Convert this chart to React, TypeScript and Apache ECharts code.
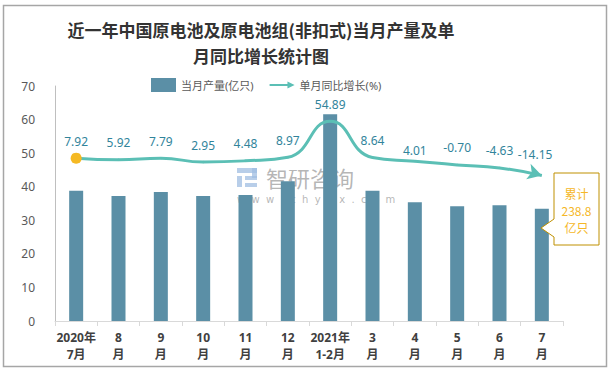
import React, { useEffect, useRef } from "react";
import * as echarts from "echarts";

const categories = ["2020年\n7月", "8\n月", "9\n月", "10\n月", "11\n月", "12\n月", "2021年\n1-2月", "3\n月", "4\n月", "5\n月", "6\n月", "7\n月"];
const output = [38.8, 37.2, 38.4, 37.2, 37.5, 41.6, 61.6, 38.8, 35.4, 34.2, 34.5, 33.4];
const growth = [7.92, 5.92, 7.79, 2.95, 4.48, 8.97, 54.89, 8.64, 4.01, -0.7, -4.63, -14.15];
const barName = "当月产量(亿只)";
const lineName = "单月同比增长(%)";
const titleText = "近一年中国原电池及原电池组(非扣式)当月产量及单\n月同比增长统计图";
const calloutText = "累计\n238.8\n亿只";

const TEAL = "#5BBFB5";
const BAR = "#5B8FA6";

export default function App() {
  const ref = useRef<HTMLDivElement>(null);
  useEffect(() => {
    if (!ref.current) return;
    const chart = echarts.init(ref.current, null, { renderer: "svg" });
    const lineData = growth.map((v, i) => {
      if (i === 0) {
        return { value: v, symbol: "circle", symbolSize: 11, itemStyle: { color: "#F5B923" }, label: { distance: 5 } };
      }
      if (i === growth.length - 1) {
        return { value: v, symbol: "arrow", symbolSize: [12, 14], symbolRotate: -106, itemStyle: { color: TEAL }, label: { distance: 3 } };
      }
      if (i === 8) {
        return { value: v, label: { distance: 4 } };
      }
      return { value: v };
    });
    chart.setOption({
      animation: false,
      backgroundColor: "#ffffff",
      textStyle: { fontFamily: "'Noto Sans', 'Noto Sans CJK SC', sans-serif" },
      legend: {
        left: 146,
        top: 73,
        itemGap: 16,
        textStyle: { fontSize: 11, color: "#595959" },
        data: [
          { name: barName, icon: "rect", itemWidth: 20, itemHeight: 7 },
          { name: lineName, icon: "path://M0,3 L20,3 L20,0 L28,4 L20,8 L20,5 L0,5 Z", itemWidth: 28, itemHeight: 8 },
        ],
      },
      grid: { left: 55, right: 50, top: 86, bottom: 51, containLabel: false },
      xAxis: {
        type: "category",
        data: categories,
        axisLine: { lineStyle: { color: "#D9D9D9", width: 1 } },
        axisTick: { show: true, length: 5, lineStyle: { color: "#D9D9D9" } },
        axisLabel: { fontSize: 12, fontWeight: "bold", color: "#404040", lineHeight: 17, margin: 8, interval: 0 },
      },
      yAxis: [
        {
          type: "value",
          min: 0,
          max: 70,
          interval: 10,
          axisLine: { show: true, lineStyle: { color: "#BFBFBF" } },
          axisTick: { show: false },
          splitLine: { show: false },
          axisLabel: { fontSize: 12, color: "#595959", margin: 20 },
        },
        { type: "value", min: -200, max: 100, show: false, splitLine: { show: false } },
      ],
      series: [
        {
          name: barName,
          type: "bar",
          data: output,
          barWidth: 14,
          itemStyle: { color: BAR },
          z: 2,
        },
        {
          name: lineName,
          type: "line",
          yAxisIndex: 1,
          data: lineData,
          smooth: 0.5,
          symbol: "circle",
          symbolSize: 2,
          itemStyle: { color: TEAL },
          lineStyle: { color: TEAL, width: 3 },
          label: {
            show: true,
            position: "top",
            distance: 10,
            fontSize: 12,
            color: "#31849B",
            formatter: (p: any) => Number(p.value).toFixed(2),
          },
          z: 3,
        },
      ],
      graphic: [
        {
          type: "rect",
          z: 0,
          silent: true,
          shape: { x: 3.5, y: 5.5, width: 603, height: 361 },
          style: { fill: "none", stroke: "#A6A6A6", lineWidth: 1.5 },
        },
        {
          type: "text",
          z: 100,
          x: 261,
          y: 16,
          style: {
            text: titleText,
            font: "bold 17px 'Noto Sans CJK SC', sans-serif",
            fill: "#333333",
            textAlign: "center",
            lineHeight: 26,
          },
        },
        {
          type: "group",
          z: 50,
          silent: true,
          children: [
            { type: "rect", shape: { x: 237, y: 168, width: 20, height: 5 }, style: { fill: "rgba(160,190,225,0.75)" } },
            { type: "rect", shape: { x: 252, y: 168, width: 5, height: 10 }, style: { fill: "rgba(160,190,225,0.75)" } },
            { type: "rect", shape: { x: 237, y: 176, width: 5, height: 11 }, style: { fill: "rgba(160,190,225,0.75)" } },
            { type: "rect", shape: { x: 245, y: 176, width: 12, height: 4 }, style: { fill: "rgba(160,190,225,0.75)" } },
            { type: "rect", shape: { x: 245, y: 183, width: 12, height: 4 }, style: { fill: "rgba(160,190,225,0.75)" } },
            {
              type: "text",
              x: 266,
              y: 166,
              style: { text: "智研咨询", font: "22px 'Noto Sans CJK SC', sans-serif", fill: "rgba(150,150,150,0.7)" },
            },
            {
              type: "text",
              x: 237,
              y: 194,
              style: { text: "w  w  w  .  c  h  y  x  x  .  c  o  m", font: "10px 'DejaVu Sans', sans-serif", fill: "rgba(150,150,150,0.7)" },
            },
          ],
        },
        {
          type: "polygon",
          z: 100,
          shape: {
            points: [[554, 173], [599, 173], [599, 245], [554, 245], [554, 237], [541, 228], [554, 219]],
          },
          style: { fill: "#ffffff", stroke: "#BF9000", lineWidth: 1 },
        },
        {
          type: "text",
          z: 101,
          x: 576.5,
          y: 210,
          style: {
            text: calloutText,
            font: "12px 'Noto Sans CJK SC', sans-serif",
            fill: "#F5B728",
            textAlign: "center",
            textVerticalAlign: "middle",
            verticalAlign: "middle",
            lineHeight: 17,
          },
        },
      ],
    });
    return () => chart.dispose();
  }, []);
  return (
    <div
      ref={ref}
      style={{ position: "absolute", left: 0, top: 0, width: 613, height: 372, background: "#fff" }}
    />
  );
}
